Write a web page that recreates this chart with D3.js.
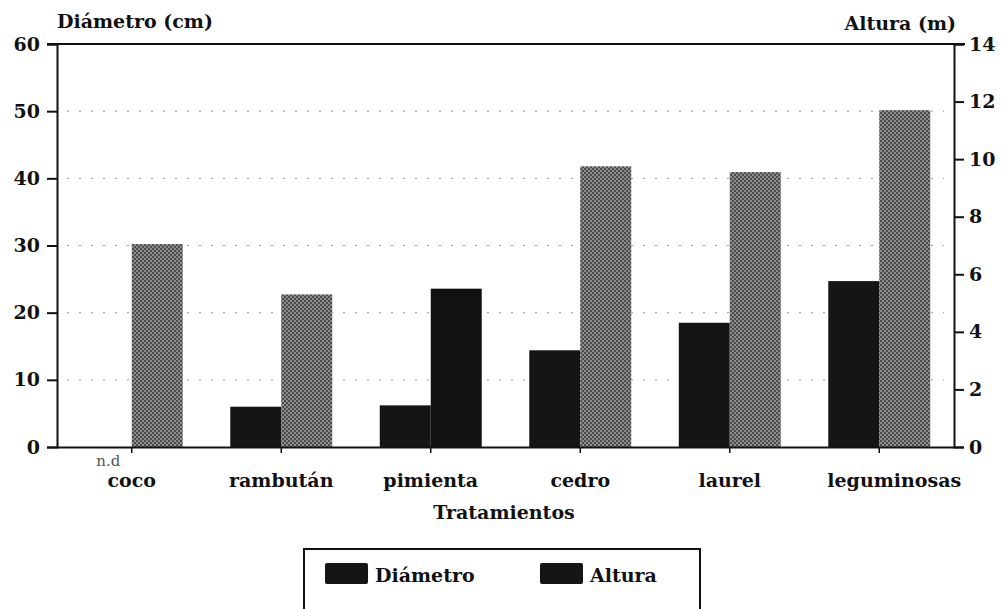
<!DOCTYPE html>
<html>
<head>
<meta charset="utf-8">
<script src="https://cdn.jsdelivr.net/npm/d3@7"></script>
<style>
  body { margin: 0; background: #fff; }
  svg text { font-family: "DejaVu Serif", "Liberation Serif", serif; font-weight: bold; fill: #111; }
</style>
</head>
<body>
<div id="plot"></div>
<script>
// data
var categories = ["coco", "rambután", "pimienta", "cedro", "laurel", "leguminosas"];
var diametro = [null, 6.0, 6.2, 14.4, 18.5, 24.7];   // cm, coco = n.d
var altura = [7.05, 5.3, 5.5, 9.75, 9.55, 11.7];     // m
var seriesNames = ["Diámetro", "Altura"];
var leftTicks = [0, 10, 20, 30, 40, 50, 60];
var rightTicks = [0, 2, 4, 6, 8, 10, 12, 14];

var svg = d3.select("div#plot")
  .append("svg")
  .attr("width", 1005)
  .attr("height", 609);

var m = { left: 57, right: 954, top: 44, bottom: 447 };
var fs = 19;

var defs = svg.append("defs");
var pat = defs.append("pattern")
  .attr("id", "dots")
  .attr("patternUnits", "userSpaceOnUse")
  .attr("width", 4).attr("height", 4);
pat.append("rect").attr("width", 4).attr("height", 4).attr("fill", "#8c8c8c");
pat.append("rect").attr("width", 2).attr("height", 2).attr("fill", "#4c4c4c");
pat.append("rect").attr("x", 2).attr("y", 2).attr("width", 2).attr("height", 2).attr("fill", "#4c4c4c");

var x0 = d3.scaleBand()
  .domain(categories)
  .range([m.left, m.right])
  .paddingInner(0.318)
  .paddingOuter(0.159);

var x1 = d3.scaleBand()
  .domain(seriesNames)
  .range([0, x0.bandwidth()]);

var yL = d3.scaleLinear().domain([0, 60]).range([m.bottom, m.top]);
var yR = d3.scaleLinear().domain([0, 14]).range([m.bottom, m.top]);

// faint dotted gridlines
svg.selectAll(".grid")
  .data(leftTicks.filter(function(d) { return d > 0 && d < 60; }))
  .enter().append("line")
  .attr("class", "grid")
  .attr("x1", m.left + 10).attr("x2", m.right - 10)
  .attr("y1", function(d) { return yL(d); })
  .attr("y2", function(d) { return yL(d); })
  .attr("stroke", "#999")
  .attr("stroke-width", 1)
  .attr("stroke-dasharray", "2,10");

// diameter bars
svg.selectAll(".diam")
  .data(categories.map(function(c, i) { return { cat: c, v: diametro[i] }; })
    .filter(function(d) { return d.v !== null; }))
  .enter().append("rect")
  .attr("class", "diam")
  .attr("x", function(d) { return x0(d.cat) + x1("Diámetro"); })
  .attr("y", function(d) { return yL(d.v); })
  .attr("width", x1.bandwidth())
  .attr("height", function(d) { return m.bottom - yL(d.v); })
  .attr("fill", "#151515");

// height bars
svg.selectAll(".alt")
  .data(categories.map(function(c, i) { return { cat: c, v: altura[i] }; }))
  .enter().append("rect")
  .attr("class", "alt")
  .attr("x", function(d) { return x0(d.cat) + x1("Altura"); })
  .attr("y", function(d) { return yR(d.v); })
  .attr("width", x1.bandwidth())
  .attr("height", function(d) { return m.bottom - yR(d.v); })
  .attr("fill", function(d) { return d.cat === "pimienta" ? "#111" : "url(#dots)"; });

// n.d label
svg.selectAll(".nd")
  .data(categories.filter(function(c, i) { return diametro[i] === null; }))
  .enter().append("text")
  .attr("class", "nd")
  .attr("x", function(d) { return x0(d) + x1.bandwidth() / 2 + 2; })
  .attr("y", 466)
  .attr("text-anchor", "middle")
  .attr("font-size", 15)
  .style("font-weight", "normal")
  .style("fill", "#555")
  .text("n.d");

// frame: top line
svg.append("line")
  .attr("x1", m.left - 10).attr("x2", m.right + 11)
  .attr("y1", m.top).attr("y2", m.top)
  .attr("stroke", "#111").attr("stroke-width", 2);

// left axis
var axL = svg.append("g")
  .attr("transform", "translate(" + m.left + ",0)")
  .call(d3.axisLeft(yL).tickValues(leftTicks).tickSize(10).tickPadding(7));
axL.select(".domain").attr("stroke-width", 2).attr("stroke", "#111");
axL.selectAll(".tick line").attr("stroke-width", 2).attr("stroke", "#111");
axL.selectAll(".tick text").attr("font-size", fs).attr("font-family", null);

// right axis
var axR = svg.append("g")
  .attr("transform", "translate(" + m.right + ",0)")
  .call(d3.axisRight(yR).tickValues(rightTicks).tickSize(10).tickPadding(5));
axR.select(".domain").attr("stroke-width", 2).attr("stroke", "#111");
axR.selectAll(".tick line").attr("stroke-width", 2).attr("stroke", "#111");
axR.selectAll(".tick text").attr("font-size", fs).attr("font-family", null);

// bottom axis
var axB = svg.append("g")
  .attr("transform", "translate(0," + m.bottom + ")")
  .call(d3.axisBottom(x0).tickSize(6).tickSizeOuter(0).tickPadding(21));
axB.select(".domain").attr("stroke-width", 2).attr("stroke", "#111");
axB.selectAll(".tick line").attr("stroke-width", 1.5).attr("stroke", "#111");
axB.selectAll(".tick text").attr("font-size", fs).attr("font-family", null)
  .attr("dx", function(d, i) { return i === categories.length - 1 ? 15 : 0; });

// axis titles
svg.append("text").attr("x", m.left).attr("y", 28).attr("font-size", fs).text("Diámetro (cm)");
svg.append("text").attr("x", m.right + 2).attr("y", 30).attr("text-anchor", "end").attr("font-size", fs).text("Altura (m)");
svg.append("text").attr("x", 504).attr("y", 519).attr("text-anchor", "middle").attr("font-size", fs).text("Tratamientos");

// legend
var lg = svg.append("g");
lg.append("rect")
  .attr("x", 304).attr("y", 549).attr("width", 396).attr("height", 80)
  .attr("fill", "none").attr("stroke", "#111").attr("stroke-width", 2);
var legendX = d3.scalePoint().domain(seriesNames).range([325, 540]);
var items = lg.selectAll(".item").data(seriesNames).enter().append("g")
  .attr("class", "item")
  .attr("transform", function(d) { return "translate(" + legendX(d) + ",563)"; });
items.append("rect").attr("width", 43).attr("height", 21).attr("rx", 2).attr("fill", "#151515");
items.append("text").attr("x", 50).attr("y", 19).attr("font-size", fs).text(function(d) { return d; });
</script>
</body>
</html>
